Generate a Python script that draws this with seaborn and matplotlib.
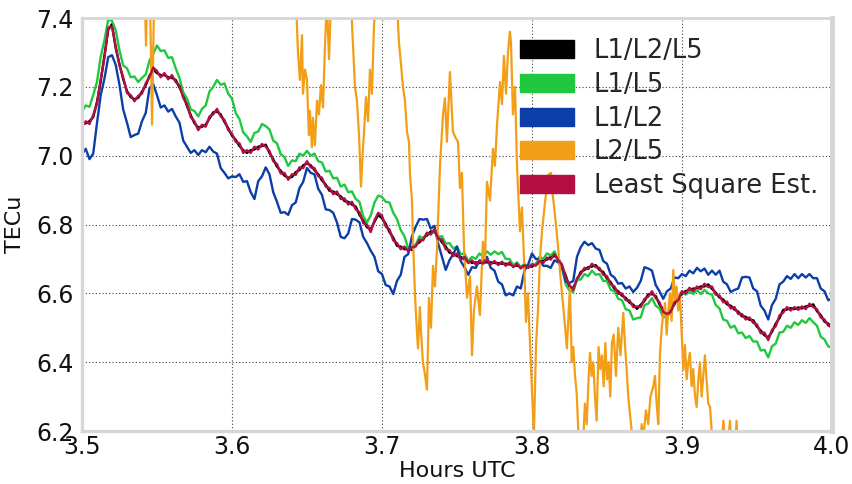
import matplotlib
matplotlib.use("Agg")
import matplotlib.pyplot as plt
import matplotlib.patches as mpatches
import numpy as np
import pandas as pd
import seaborn as sns

# Sample times (hours UTC), 0.0025 h spacing from 3.5 to 4.0
hours = [round(3.5 + 0.0025 * k, 4) for k in range(201)]

# Slant TEC estimates per frequency combination
tec_l1l2l5 = [
    7.092, 7.094, 7.100, 7.112, 7.156, 7.216, 7.292, 7.366, 7.382, 7.312,
    7.266, 7.222, 7.188, 7.170, 7.164, 7.168, 7.186, 7.204, 7.232, 7.250,
    7.240, 7.234, 7.234, 7.228, 7.226, 7.220, 7.198, 7.176, 7.144, 7.118,
    7.094, 7.082, 7.084, 7.090, 7.108, 7.126, 7.128, 7.120, 7.098, 7.080,
    7.058, 7.046, 7.028, 7.016, 7.008, 7.016, 7.018, 7.026, 7.028, 7.032,
    7.008, 6.990, 6.968, 6.956, 6.942, 6.936, 6.938, 6.952, 6.958, 6.972,
    6.978, 6.972, 6.958, 6.946, 6.928, 6.916, 6.898, 6.896, 6.888, 6.882,
    6.868, 6.866, 6.858, 6.852, 6.828, 6.812, 6.792, 6.786, 6.808, 6.828,
    6.818, 6.802, 6.778, 6.762, 6.738, 6.736, 6.728, 6.730, 6.726, 6.742,
    6.748, 6.762, 6.768, 6.780, 6.778, 6.766, 6.748, 6.736, 6.718, 6.716,
    6.708, 6.706, 6.698, 6.696, 6.688, 6.690, 6.688, 6.690, 6.690, 6.690,
    6.688, 6.688, 6.686, 6.686, 6.684, 6.682, 6.680, 6.678, 6.676, 6.678,
    6.678, 6.686, 6.688, 6.696, 6.698, 6.706, 6.708, 6.702, 6.678, 6.652,
    6.618, 6.616, 6.638, 6.662, 6.668, 6.676, 6.678, 6.682, 6.668, 6.662,
    6.643, 6.632, 6.613, 6.606, 6.593, 6.587, 6.573, 6.567, 6.555, 6.567,
    6.578, 6.597, 6.598, 6.592, 6.568, 6.552, 6.535, 6.552, 6.568, 6.587,
    6.598, 6.607, 6.608, 6.614, 6.613, 6.620, 6.620, 6.626, 6.613, 6.602,
    6.588, 6.582, 6.568, 6.564, 6.553, 6.547, 6.533, 6.532, 6.523, 6.522,
    6.503, 6.492, 6.478, 6.472, 6.488, 6.512, 6.528, 6.552, 6.553, 6.557,
    6.554, 6.559, 6.556, 6.562, 6.563, 6.568, 6.548, 6.537, 6.518, 6.512, 6.498,
]

tec_l1l5 = [
    7.128, 7.146, 7.142, 7.176, 7.214, 7.288, 7.336, 7.396, 7.392, 7.364,
    7.306, 7.262, 7.254, 7.228, 7.230, 7.214, 7.226, 7.236, 7.276, 7.296,
    7.320, 7.304, 7.306, 7.284, 7.286, 7.254, 7.226, 7.184, 7.166, 7.134,
    7.130, 7.114, 7.136, 7.146, 7.186, 7.200, 7.220, 7.206, 7.210, 7.180,
    7.166, 7.124, 7.106, 7.068, 7.056, 7.040, 7.066, 7.070, 7.092, 7.086,
    7.076, 7.044, 7.036, 7.004, 6.996, 6.970, 6.986, 6.984, 7.006, 7.000,
    7.014, 7.000, 7.006, 6.984, 6.980, 6.954, 6.956, 6.934, 6.936, 6.910,
    6.916, 6.894, 6.896, 6.874, 6.866, 6.824, 6.806, 6.826, 6.864, 6.884,
    6.880, 6.866, 6.864, 6.834, 6.816, 6.784, 6.766, 6.730, 6.736, 6.740,
    6.766, 6.758, 6.776, 6.770, 6.784, 6.764, 6.766, 6.744, 6.746, 6.730,
    6.736, 6.714, 6.716, 6.694, 6.706, 6.700, 6.716, 6.706, 6.722, 6.712,
    6.722, 6.714, 6.720, 6.700, 6.700, 6.682, 6.690, 6.676, 6.686, 6.674,
    6.686, 6.684, 6.706, 6.700, 6.716, 6.710, 6.722, 6.696, 6.676, 6.626,
    6.608, 6.604, 6.640, 6.640, 6.656, 6.650, 6.666, 6.654, 6.656, 6.636,
    6.636, 6.610, 6.606, 6.584, 6.580, 6.554, 6.550, 6.524, 6.528, 6.530,
    6.566, 6.570, 6.586, 6.564, 6.556, 6.530, 6.536, 6.540, 6.576, 6.586,
    6.606, 6.596, 6.606, 6.598, 6.610, 6.598, 6.610, 6.600, 6.596, 6.566,
    6.556, 6.524, 6.520, 6.500, 6.506, 6.484, 6.486, 6.470, 6.476, 6.460,
    6.460, 6.434, 6.436, 6.414, 6.446, 6.454, 6.486, 6.488, 6.506, 6.500,
    6.516, 6.508, 6.522, 6.514, 6.528, 6.516, 6.506, 6.474, 6.466, 6.446, 6.442,
]

tec_l1l2 = [
    7.004, 7.020, 6.990, 7.006, 7.094, 7.176, 7.224, 7.286, 7.292, 7.264,
    7.206, 7.134, 7.096, 7.054, 7.060, 7.064, 7.100, 7.124, 7.196, 7.208,
    7.176, 7.140, 7.146, 7.128, 7.136, 7.114, 7.096, 7.044, 7.026, 7.008,
    7.016, 7.002, 7.016, 7.010, 7.026, 7.012, 7.006, 6.964, 6.950, 6.934,
    6.940, 6.938, 6.946, 6.924, 6.926, 6.894, 6.874, 6.926, 6.940, 6.966,
    6.946, 6.894, 6.866, 6.834, 6.836, 6.828, 6.856, 6.864, 6.906, 6.924,
    6.964, 6.950, 6.946, 6.904, 6.886, 6.844, 6.842, 6.834, 6.806, 6.764,
    6.760, 6.774, 6.816, 6.814, 6.806, 6.764, 6.746, 6.724, 6.706, 6.664,
    6.656, 6.624, 6.620, 6.598, 6.636, 6.654, 6.706, 6.714, 6.766, 6.794,
    6.816, 6.814, 6.816, 6.788, 6.796, 6.744, 6.706, 6.668, 6.696, 6.714,
    6.736, 6.694, 6.676, 6.654, 6.676, 6.674, 6.696, 6.694, 6.706, 6.674,
    6.666, 6.634, 6.626, 6.594, 6.600, 6.594, 6.620, 6.614, 6.666, 6.684,
    6.716, 6.700, 6.700, 6.680, 6.680, 6.674, 6.696, 6.690, 6.676, 6.634,
    6.630, 6.636, 6.706, 6.734, 6.750, 6.740, 6.746, 6.730, 6.726, 6.694,
    6.686, 6.654, 6.646, 6.628, 6.630, 6.614, 6.620, 6.604, 6.616, 6.636,
    6.676, 6.672, 6.666, 6.624, 6.606, 6.584, 6.606, 6.614, 6.646, 6.644,
    6.656, 6.650, 6.666, 6.658, 6.674, 6.664, 6.672, 6.654, 6.666, 6.654,
    6.666, 6.634, 6.626, 6.604, 6.610, 6.614, 6.646, 6.648, 6.646, 6.614,
    6.606, 6.564, 6.550, 6.524, 6.566, 6.584, 6.626, 6.634, 6.650, 6.642,
    6.656, 6.644, 6.656, 6.646, 6.656, 6.644, 6.644, 6.614, 6.606, 6.580, 6.584,
]

tec_lse = [
    7.085, 7.100, 7.092, 7.118, 7.150, 7.222, 7.285, 7.372, 7.375, 7.318,
    7.262, 7.228, 7.182, 7.176, 7.158, 7.174, 7.180, 7.210, 7.228, 7.256,
    7.246, 7.228, 7.240, 7.222, 7.234, 7.214, 7.204, 7.168, 7.150, 7.112,
    7.100, 7.074, 7.090, 7.084, 7.114, 7.120, 7.136, 7.114, 7.104, 7.074,
    7.064, 7.040, 7.036, 7.008, 7.016, 7.008, 7.026, 7.018, 7.034, 7.026,
    7.014, 6.984, 6.976, 6.948, 6.950, 6.930, 6.946, 6.944, 6.966, 6.964,
    6.984, 6.966, 6.964, 6.940, 6.936, 6.910, 6.906, 6.888, 6.896, 6.874,
    6.876, 6.858, 6.866, 6.844, 6.836, 6.804, 6.800, 6.778, 6.812, 6.834,
    6.826, 6.794, 6.786, 6.754, 6.746, 6.728, 6.736, 6.722, 6.734, 6.736,
    6.756, 6.754, 6.776, 6.772, 6.786, 6.758, 6.756, 6.728, 6.726, 6.708,
    6.716, 6.698, 6.706, 6.688, 6.696, 6.684, 6.694, 6.686, 6.698, 6.684,
    6.694, 6.682, 6.692, 6.680, 6.690, 6.676, 6.686, 6.672, 6.682, 6.674,
    6.684, 6.680, 6.694, 6.688, 6.704, 6.698, 6.714, 6.696, 6.684, 6.646,
    6.624, 6.610, 6.644, 6.656, 6.674, 6.670, 6.686, 6.676, 6.674, 6.654,
    6.650, 6.626, 6.620, 6.598, 6.600, 6.580, 6.580, 6.560, 6.562, 6.560,
    6.584, 6.590, 6.606, 6.586, 6.574, 6.546, 6.540, 6.546, 6.574, 6.580,
    6.606, 6.600, 6.616, 6.606, 6.620, 6.612, 6.628, 6.618, 6.620, 6.596,
    6.594, 6.574, 6.576, 6.556, 6.560, 6.540, 6.540, 6.524, 6.530, 6.514,
    6.510, 6.484, 6.486, 6.464, 6.494, 6.504, 6.536, 6.544, 6.560, 6.550,
    6.560, 6.552, 6.562, 6.554, 6.570, 6.560, 6.554, 6.530, 6.524, 6.506, 6.502,
]

# L2/L5 is far noisier and is sampled on its own time base
hours_l2l5 = [
    3.5000, 3.5400, 3.5420, 3.5427, 3.5433, 3.5453, 3.5460, 3.5467, 3.5473, 3.5480,
    3.5500, 3.6400, 3.6427, 3.6440, 3.6453, 3.6467, 3.6473, 3.6487, 3.6500, 3.6513,
    3.6520, 3.6533, 3.6540, 3.6553, 3.6567, 3.6580, 3.6593, 3.6607, 3.6620, 3.6633,
    3.6647, 3.6660, 3.6680, 3.6780, 3.6793, 3.6807, 3.6820, 3.6833, 3.6847, 3.6860,
    3.6873, 3.6880, 3.6893, 3.6907, 3.6920, 3.6933, 3.6947, 3.6960, 3.6980, 3.7080,
    3.7100, 3.7113, 3.7127, 3.7140, 3.7153, 3.7167, 3.7180, 3.7187, 3.7200, 3.7207,
    3.7220, 3.7227, 3.7240, 3.7253, 3.7260, 3.7273, 3.7287, 3.7300, 3.7307, 3.7313,
    3.7327, 3.7340, 3.7353, 3.7367, 3.7387, 3.7407, 3.7420, 3.7433, 3.7453, 3.7473,
    3.7493, 3.7507, 3.7520, 3.7533, 3.7547, 3.7567, 3.7587, 3.7600, 3.7613, 3.7633,
    3.7653, 3.7673, 3.7687, 3.7700, 3.7720, 3.7740, 3.7753, 3.7767, 3.7787, 3.7800,
    3.7813, 3.7827, 3.7840, 3.7853, 3.7860, 3.7873, 3.7887, 3.7900, 3.7920, 3.7933,
    3.7947, 3.7960, 3.7973, 3.7993, 3.8013, 3.8027, 3.8040, 3.8053, 3.8067, 3.8087,
    3.8107, 3.8127, 3.8140, 3.8153, 3.8173, 3.8193, 3.8213, 3.8233, 3.8253, 3.8265,
    3.8276, 3.8287, 3.8298, 3.8309, 3.8320, 3.8340, 3.8353, 3.8365, 3.8376, 3.8387,
    3.8398, 3.8409, 3.8420, 3.8431, 3.8444, 3.8456, 3.8467, 3.8478, 3.8489, 3.8500,
    3.8511, 3.8522, 3.8533, 3.8545, 3.8560, 3.8575, 3.8590, 3.8609, 3.8620, 3.8631,
    3.8642, 3.8653, 3.8665, 3.8680, 3.8720, 3.8731, 3.8742, 3.8760, 3.8775, 3.8790,
    3.8809, 3.8820, 3.8831, 3.8842, 3.8853, 3.8865, 3.8876, 3.8887, 3.8898, 3.8909,
    3.8920, 3.8931, 3.8942, 3.8953, 3.8964, 3.8975, 3.8986, 3.8998, 3.9009, 3.9020,
    3.9031, 3.9042, 3.9053, 3.9064, 3.9075, 3.9087, 3.9098, 3.9109, 3.9120, 3.9131,
    3.9142, 3.9153, 3.9164, 3.9175, 3.9187, 3.9198, 3.9209, 3.9240, 3.9253, 3.9265,
    3.9276, 3.9287, 3.9300, 3.9320, 3.9331, 3.9353, 3.9364, 3.9375, 3.9400, 4.0000,
]

tec_l2l5 = [
    7.60, 7.60, 7.45, 7.32, 7.45, 7.45, 7.30, 7.09, 7.25, 7.45,
    7.60, 7.60, 7.45, 7.30, 7.22, 7.35, 7.18, 7.25, 7.22, 7.06,
    7.13, 7.025, 7.11, 7.03, 7.16, 7.12, 7.205, 7.14, 7.32, 7.45,
    7.28, 7.45, 7.60, 7.60, 7.45, 7.32, 7.20, 7.16, 7.06, 6.91,
    7.02, 7.065, 7.17, 7.10, 7.25, 7.18, 7.38, 7.45, 7.60, 7.60,
    7.45, 7.33, 7.265, 7.20, 7.16, 7.07, 7.04, 6.944, 6.87, 6.75,
    6.60, 6.537, 6.44, 6.56, 6.49, 6.40, 6.363, 6.32, 6.45, 6.587,
    6.50, 6.68, 6.62, 6.73, 6.973, 7.12, 7.167, 7.04, 7.243, 7.07,
    7.05, 7.04, 6.906, 6.95, 6.73, 6.587, 6.65, 6.42, 6.55, 6.62,
    6.537, 6.75, 6.70, 6.924, 6.87, 7.02, 6.97, 7.09, 7.214, 7.15,
    7.29, 7.18, 7.30, 7.36, 7.33, 7.12, 7.20, 6.973, 6.78, 6.85,
    6.70, 6.517, 6.60, 6.39, 6.19, 6.45, 6.55, 6.70, 6.78, 6.865,
    6.944, 6.95, 6.88, 6.83, 6.74, 6.633, 6.54, 6.44, 6.62, 6.40,
    6.444, 6.36, 6.31, 6.20, 6.12, 6.16, 6.28, 6.22, 6.34, 6.427,
    6.36, 6.40, 6.30, 6.23, 6.444, 6.38, 6.42, 6.33, 6.456, 6.35,
    6.40, 6.30, 6.456, 6.48, 6.36, 6.50, 6.42, 6.543, 6.45, 6.38,
    6.30, 6.25, 6.20, 6.12, 6.12, 6.22, 6.18, 6.26, 6.22, 6.30,
    6.33, 6.36, 6.28, 6.22, 6.42, 6.50, 6.543, 6.572, 6.48, 6.55,
    6.60, 6.52, 6.668, 6.58, 6.62, 6.55, 6.60, 6.48, 6.377, 6.45,
    6.35, 6.40, 6.427, 6.33, 6.38, 6.30, 6.27, 6.35, 6.40, 6.30,
    6.36, 6.42, 6.35, 6.28, 6.27, 6.20, 6.14, 6.14, 6.20, 6.15,
    6.23, 6.16, 6.12, 6.23, 6.14, 6.15, 6.23, 6.10, 6.00, 6.00,
]

series_names = ["L1/L2/L5", "L1/L5", "L1/L2", "L2/L5", "Least Square Est."]
series_colors = ["#000000", "#1fc83f", "#0b3ea8", "#f29e16", "#b30f45"]

df = pd.DataFrame({
    "hours": hours,
    "L1/L2/L5": tec_l1l2l5,
    "L1/L5": tec_l1l5,
    "L1/L2": tec_l1l2,
    "Least Square Est.": tec_lse,
})
df_l2l5 = pd.DataFrame({"hours": hours_l2l5, "tec": tec_l2l5})

sns.set_style("white")
plt.rcParams["font.family"] = ["DejaVu Sans"]

fig = plt.figure(figsize=(8.52, 4.84), dpi=100)
ax = fig.add_axes([0.0962, 0.1095, 0.8803, 0.8533])

for name, color in zip(series_names, series_colors):
    if name == "L2/L5":
        sns.lineplot(data=df_l2l5, x="hours", y="tec", color=color,
                     linewidth=1.6, estimator=None, sort=False, ax=ax)
    else:
        sns.lineplot(data=df, x="hours", y=name, color=color,
                     linewidth=1.7, estimator=None, sort=False, ax=ax)

ax.set_xlim(3.5, 4.0)
ax.set_ylim(6.2, 7.4)
ax.set_xticks([3.5, 3.6, 3.7, 3.8, 3.9, 4.0])
ax.set_yticks([6.2, 6.4, 6.6, 6.8, 7.0, 7.2, 7.4])
ax.set_xticklabels(["3.5", "3.6", "3.7", "3.8", "3.9", "4.0"])
ax.set_yticklabels(["6.2", "6.4", "6.6", "6.8", "7.0", "7.2", "7.4"])
ax.tick_params(axis="x", length=0, labelsize=17, pad=3, colors="#111111")
ax.tick_params(axis="y", length=0, labelsize=17, pad=6, colors="#111111")

ax.set_xlabel("Hours UTC", fontsize=16, color="#111111", labelpad=1)
ax.set_ylabel("TECu", fontsize=16, color="#111111", labelpad=8)

ax.grid(True, linestyle=(0, (1, 2)), color="#444444", linewidth=0.8)
ax.set_axisbelow(True)

for side, width in [("left", 2.4), ("bottom", 2.4), ("top", 2.0), ("right", 3.6)]:
    ax.spines[side].set_color("#d6d6d6")
    ax.spines[side].set_linewidth(width)

handles = [mpatches.Patch(facecolor=c, edgecolor=c, label=n)
           for n, c in zip(series_names, series_colors)]
ax.legend(handles=handles, loc="upper right", bbox_to_anchor=(1.0, 0.985),
          frameon=False, fontsize=18.5, handlelength=2.1, handleheight=0.7,
          handletextpad=0.75, labelspacing=0.3, borderaxespad=0.15)

fig.savefig("out.png", dpi=100)
